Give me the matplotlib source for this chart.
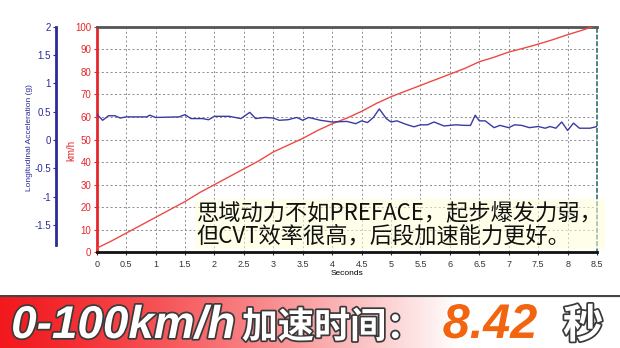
import numpy as np
import matplotlib
matplotlib.use('Agg')
import matplotlib.pyplot as plt
import matplotlib.patheffects as pe

plt.rcParams['font.family'] = ['Liberation Sans', 'Noto Sans CJK SC']
plt.rcParams['axes.unicode_minus'] = False

# 车速 (km/h) 数据
speed_t = [0, 0.25, 0.5, 0.75, 1, 1.25, 1.5, 1.75, 2, 2.25, 2.5, 2.75, 3, 3.25,
           3.5, 3.75, 4, 4.25, 4.5, 4.75, 5, 5.25, 5.5, 5.75, 6, 6.25, 6.5,
           6.75, 7, 7.25, 7.5, 7.75, 8, 8.25, 8.42]
speed_kmh = [1.8, 5, 8.5, 12, 15.5, 19, 22.5, 26.5, 30, 33.5, 37, 40.5, 44.5, 47.5,
             50.5, 54, 57, 59.5, 62.5, 66, 69, 71.5, 74, 76.5, 79, 81.5, 84.5,
             86.5, 88.8, 90.5, 92.3, 94.3, 96.5, 98.5, 100]

# 纵向加速度 (g) 数据
acc_t = [0, 0.1, 0.2, 0.31, 0.4, 0.5, 0.85, 0.9, 1.0, 1.4, 1.5, 1.6, 1.8, 1.9,
         2.0, 2.25, 2.45, 2.6, 2.7, 2.85, 3.0, 3.1, 3.25, 3.4, 3.5, 3.6, 3.8,
         4.0, 4.25, 4.4, 4.5, 4.6, 4.7, 4.8, 4.92, 5.0, 5.1, 5.25, 5.39, 5.5,
         5.62, 5.73, 5.85, 5.9, 6.1, 6.25, 6.35, 6.43, 6.5, 6.6, 6.75, 6.85,
         7.0, 7.1, 7.22, 7.35, 7.5, 7.62, 7.7, 7.8, 7.9, 8.0, 8.1, 8.2, 8.38, 8.5]
acc_g = [0.46, 0.35, 0.43, 0.43, 0.39, 0.41, 0.41, 0.44, 0.40, 0.41, 0.45, 0.38,
         0.38, 0.36, 0.42, 0.42, 0.38, 0.49, 0.38, 0.40, 0.39, 0.35, 0.36, 0.40,
         0.35, 0.40, 0.35, 0.32, 0.33, 0.29, 0.34, 0.31, 0.40, 0.55, 0.38, 0.32,
         0.34, 0.28, 0.235, 0.27, 0.27, 0.32, 0.27, 0.25, 0.27, 0.26, 0.26, 0.44,
         0.34, 0.34, 0.22, 0.26, 0.22, 0.27, 0.26, 0.22, 0.24, 0.21, 0.24, 0.21,
         0.32, 0.17, 0.30, 0.21, 0.21, 0.24]

x_ticks = np.arange(0, 8.51, 0.5)
kmh_ticks = np.arange(0, 101, 10)
g_ticks = [-1.5, -1, -0.5, 0, 0.5, 1, 1.5, 2]

RED = '#e8262a'
BLUE = '#2b2b9a'

fig = plt.figure(figsize=(6.2, 3.48), dpi=100)
ax = fig.add_axes([0.156, 0.275, 0.807, 0.648])

ax.plot(speed_t, speed_kmh, color='#ec4a44', lw=1.0, zorder=3)
ax.set_xlim(0, 8.5)
ax.set_ylim(0, 100)
ax.set_xticks(x_ticks)
ax.set_xticklabels([f'{v:g}' for v in x_ticks])
ax.set_yticks(kmh_ticks)
ax.grid(True, color='#8a8a8a', linestyle=(0, (2, 2.5)), lw=0.7)
ax.tick_params(axis='x', labelsize=6.5, length=2, colors='#333333')
ax.tick_params(axis='y', labelsize=7, length=2, pad=2, colors=RED, labelcolor=RED)
ax.set_xlabel('Seconds', fontsize=6, labelpad=1)
ax.set_ylabel('km/h', fontsize=7, color=RED)
ax.yaxis.set_label_coords(-0.04, 0.45)

ax.spines['left'].set_color(RED)
ax.spines['left'].set_linewidth(2)
ax.spines['bottom'].set_color('#111111')
ax.spines['bottom'].set_linewidth(2)
ax.spines['top'].set_color('#555555')
ax.spines['top'].set_linewidth(2)
ax.spines['right'].set_color('#2f6f6f')
ax.spines['right'].set_linestyle((0, (2, 2)))
ax.spines['right'].set_linewidth(1.2)

# 加速度轴 (左侧偏移)
ax2 = ax.twinx()
ax2.plot(acc_t, acc_g, color='#3a3aa5', lw=1.0, zorder=3)
ax2.set_ylim(-1.98, 2)
ax2.set_yticks(g_ticks)
ax2.set_yticklabels([f'{v:g}' for v in g_ticks])
ax2.yaxis.set_ticks_position('left')
ax2.yaxis.set_label_position('left')
ax2.spines['left'].set_position(('outward', 29))
ax2.spines['left'].set_bounds(-1.85, 2)
ax2.spines['left'].set_color(BLUE)
ax2.spines['left'].set_linewidth(2)
for s in ['right', 'top', 'bottom']:
    ax2.spines[s].set_visible(False)
ax2.tick_params(axis='y', labelsize=7, length=2, pad=2, colors=BLUE, labelcolor=BLUE)
ax2.set_ylabel('Longitudinal Acceleration (g)', fontsize=6, color=BLUE)
ax2.yaxis.set_label_coords(-0.127, 0.51)

# 说明文字
ax2.text(0.2, 0.125, '思域动力不如PREFACE，起步爆发力弱，\n但CVT效率很高，后段加速能力更好。',
         transform=ax.transAxes, fontsize=16, color='#111111', style='italic',
         family=['Noto Sans CJK SC', 'DejaVu Sans'], linespacing=1.0, va='center', ha='left',
         bbox=dict(facecolor='#ffffd8', alpha=0.55, edgecolor='none', pad=1.5), zorder=5)

# 底部横幅
bax = fig.add_axes([0, 0, 1, 0.152])
grad = np.linspace(0, 1, 400)
w = np.clip(grad / 0.74, 0, 1) ** 1.3
red = np.array([0.95, 0.10, 0.12])
cols = red[None, :] * (1 - w[:, None]) + np.ones(3)[None, :] * w[:, None]
img = np.repeat(cols[None, :, :], 10, axis=0)
bax.imshow(img, extent=[0, 1, 0, 1], aspect='auto')
bax.axhline(1, color='#444444', lw=3)
bax.set_xlim(0, 1)
bax.set_ylim(0, 1)
bax.axis('off')

outline = [pe.withStroke(linewidth=2.5, foreground='#3a3a3a')]
bax.text(0.018, 0.19, '0-100km/h', fontsize=33, fontweight='bold', style='italic',
         family='Liberation Sans', color='white', va='baseline', ha='left', path_effects=outline)
bax.text(0.39, 0.19, '加速时间：', fontsize=26, fontweight='heavy',
         family='Noto Sans CJK SC', color='white', va='baseline', ha='left', path_effects=outline)
bax.text(0.714, 0.19, '8.42', fontsize=35, fontweight='bold', style='italic',
         family='Liberation Sans', color='#f26410', va='baseline', ha='left',
         path_effects=[pe.withStroke(linewidth=2, foreground='white')])
bax.text(0.908, 0.19, '秒', fontsize=29, fontweight='heavy',
         family='Noto Sans CJK SC', color='white', va='baseline', ha='left', path_effects=outline)

fig.savefig('out.png', dpi=100)
